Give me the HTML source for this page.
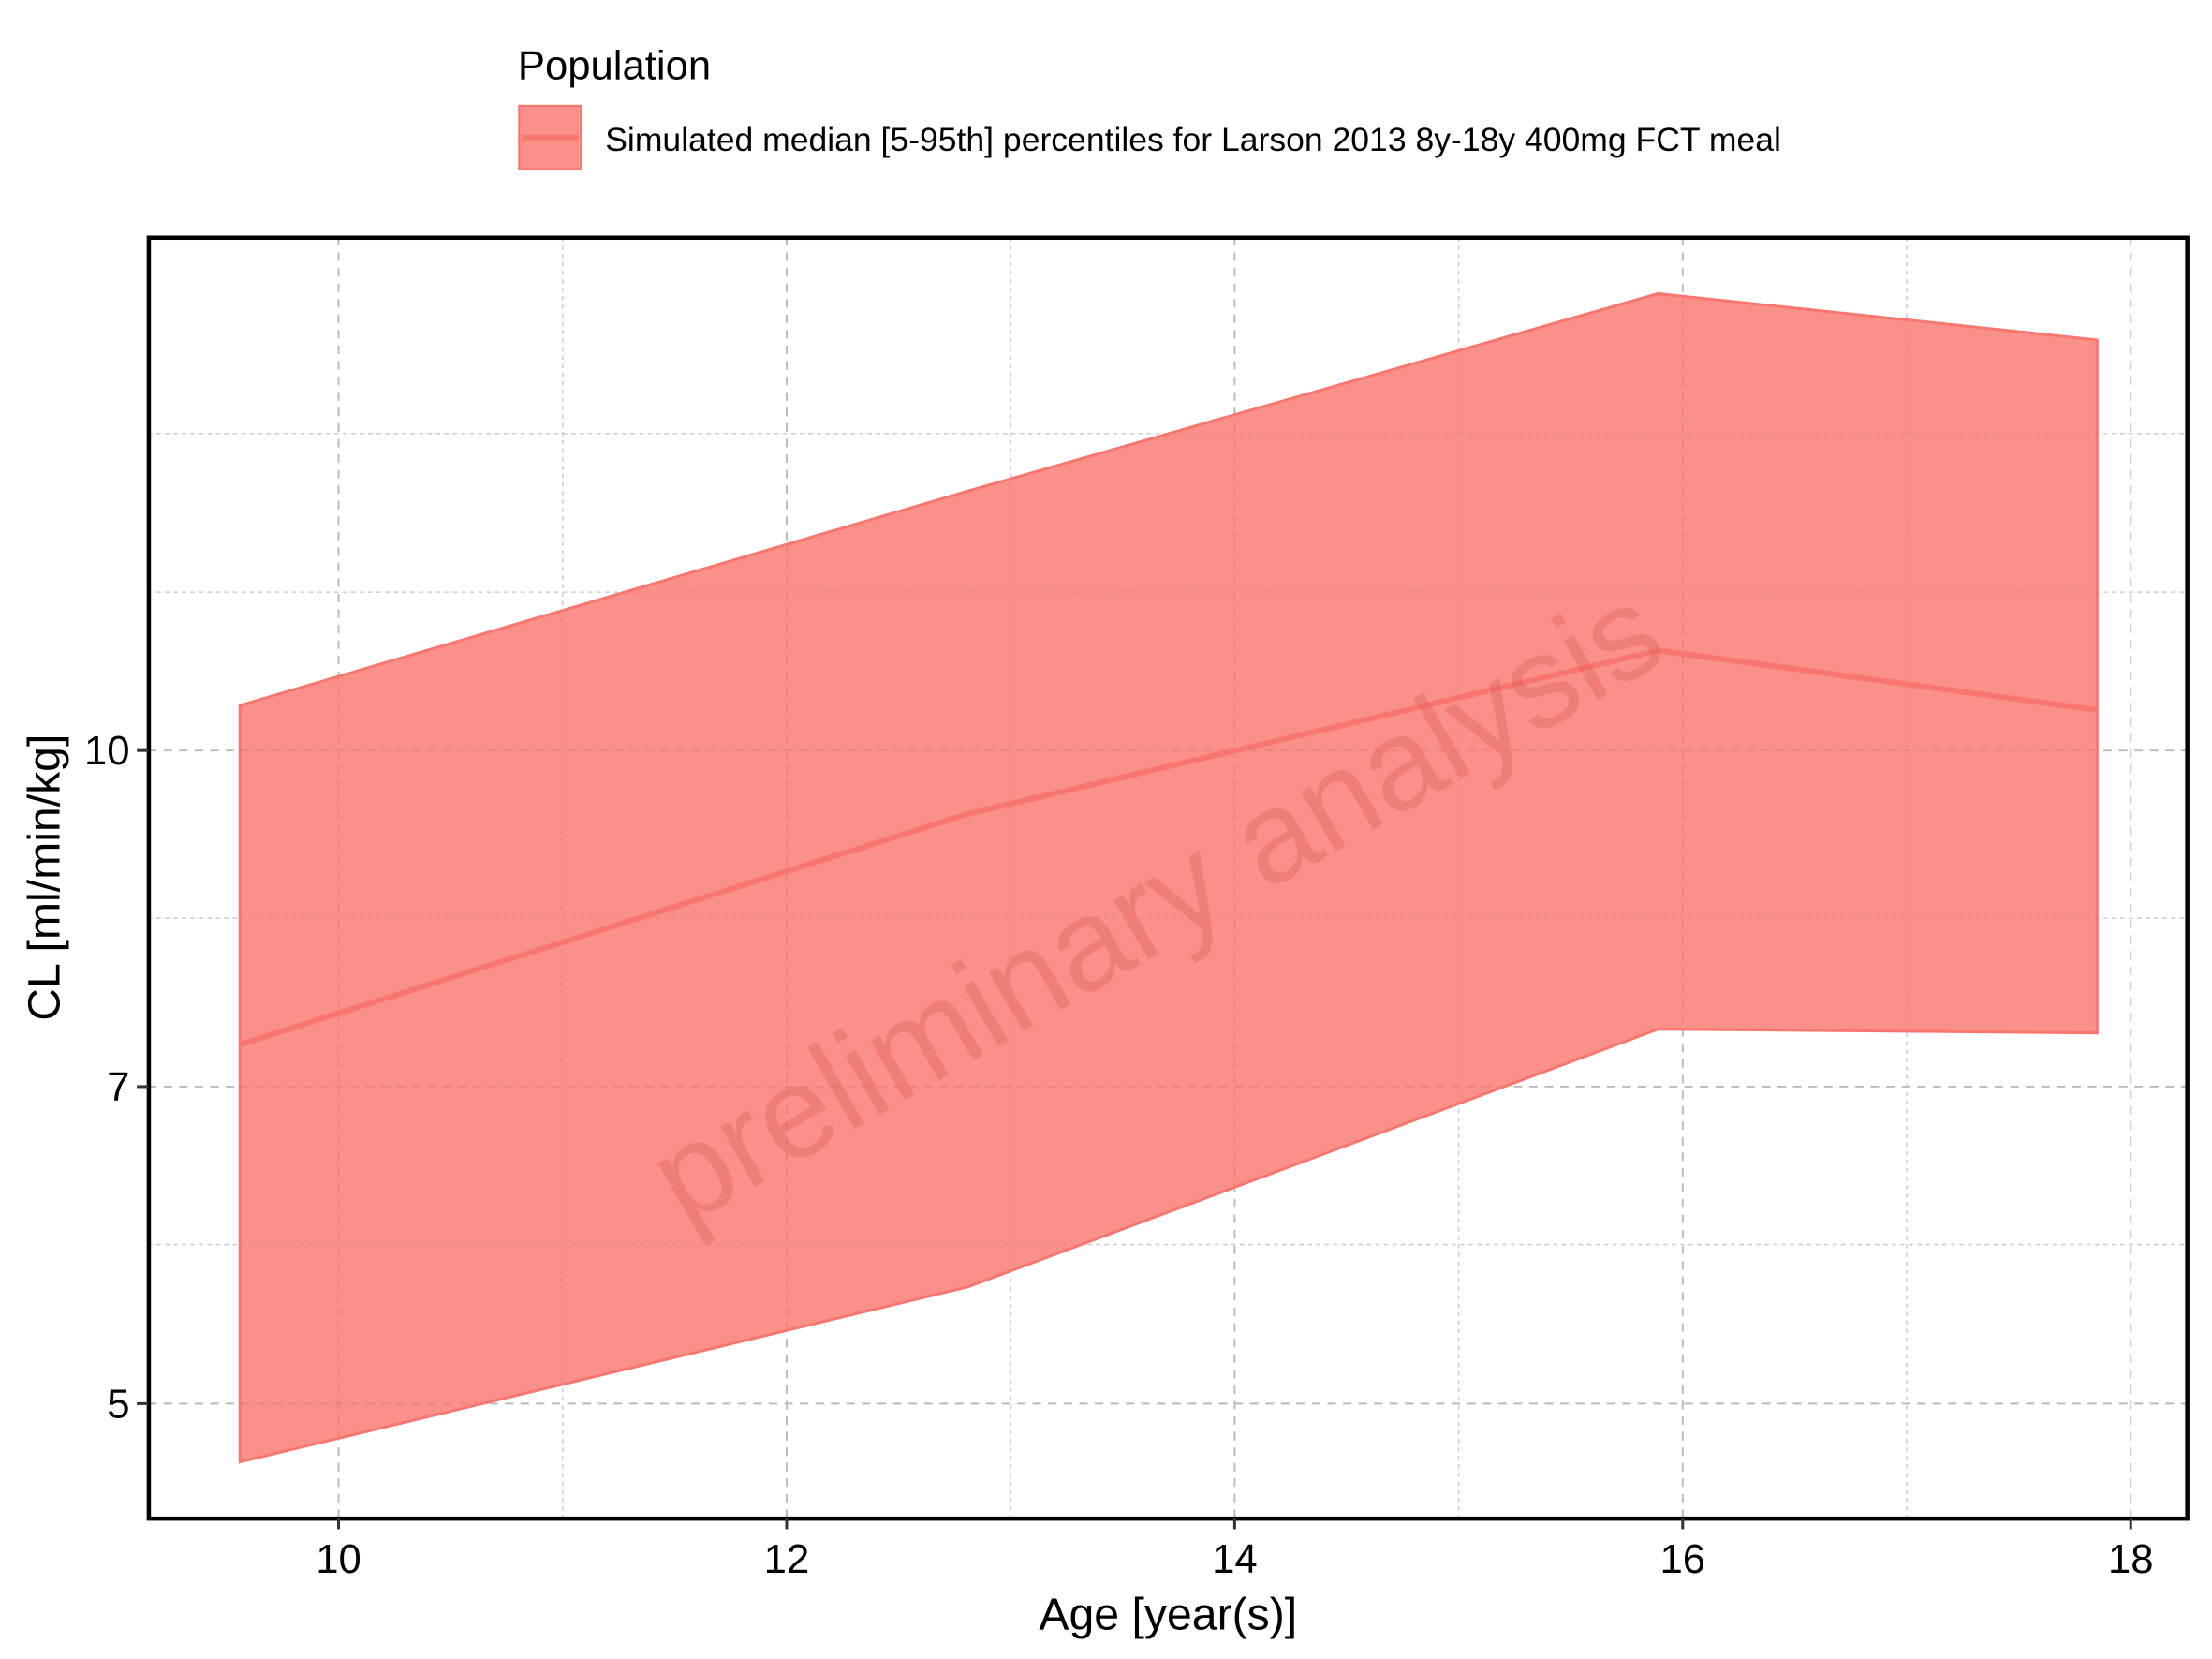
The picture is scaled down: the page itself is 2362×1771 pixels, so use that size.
<!DOCTYPE html>
<html><head><meta charset="utf-8"><style>
html,body{margin:0;padding:0;background:#fff;}
svg{display:block;font-family:"Liberation Sans",Arial,sans-serif;}
</style></head><body>
<svg id="chart" width="2362" height="1771" viewBox="0 0 1568 1176" preserveAspectRatio="none" xmlns="http://www.w3.org/2000/svg">
<g id="grid"></g>
<g id="marks"></g>
<text x="835" y="668" font-size="92" fill="#d9534f" fill-opacity="0.3" text-anchor="middle" transform="rotate(-30 835 668)">preliminary analysis</text>
<rect x="105.5" y="168.5" width="1445" height="908" fill="none" stroke="#000" stroke-width="3"/>
<g id="axes"></g>
<text x="828" y="1155" font-size="32" text-anchor="middle">Age [year(s)]</text>
<text x="42" y="622" font-size="32" text-anchor="middle" transform="rotate(-90 42 622)">CL [ml/min/kg]</text>
<g>
<text x="367" y="56" font-size="29">Population</text>
<rect x="368" y="75" width="44" height="45" fill="#F8766D" fill-opacity="0.8" stroke="#F8766D" stroke-width="1.5"/>
<line x1="370" y1="97.5" x2="410" y2="97.5" stroke="#F8766D" stroke-width="4"/>
<text x="429" y="107" font-size="23.6">Simulated median [5-95th] percentiles for Larson 2013 8y-18y 400mg FCT meal</text>
</g>
</svg>
<script>
const ages=[9.56,12.81,15.89,17.85];
const upper=[10.49,13.17,16.24,15.46];
const median=[7.32,9.35,11.12,10.44];
const lower=[4.70,5.66,7.44,7.41];
const xTicks=[10,12,14,16,18];
const yTicks=[5,7,10];
const yMinor=[5.92,8.37,11.83,14.0];
const xMinor=[11,13,15,17];
const NS="http://www.w3.org/2000/svg";
const X=v=>240+(v-10)*158.8;
const Y=v=>532-Math.log10(v/10)*1538;
function mk(tag,attrs,parent){const e=document.createElementNS(NS,tag);for(const k in attrs)e.setAttribute(k,attrs[k]);parent.appendChild(e);return e;}
const grid=document.getElementById('grid'),marks=document.getElementById('marks'),axes=document.getElementById('axes');
xMinor.forEach(v=>{const l=mk('line',{x1:X(v),x2:X(v),y1:168,y2:1076,stroke:'#ccc','stroke-width':1,'stroke-dasharray':'3,3'},grid);

});
yMinor.forEach(v=>{const l=mk('line',{x1:105,x2:1550,y1:Y(v),y2:Y(v),stroke:'#ccc','stroke-width':1,'stroke-dasharray':'3,3'},grid);

});
xTicks.forEach(v=>{const l=mk('line',{x1:X(v),x2:X(v),y1:168,y2:1076,stroke:'#bbb','stroke-width':1.3,'stroke-dasharray':'6,5'},grid);


const t=mk('line',{x1:X(v),x2:X(v),y1:1076,y2:1084,stroke:'#333','stroke-width':2},axes);


const tx=mk('text',{x:X(v),y:1115,'font-size':29,'text-anchor':'middle'},axes);tx.textContent=v;

});
yTicks.forEach(v=>{const l=mk('line',{x1:105,x2:1550,y1:Y(v),y2:Y(v),stroke:'#bbb','stroke-width':1.3,'stroke-dasharray':'6,5'},grid);


const t=mk('line',{x1:97,x2:105,y1:Y(v),y2:Y(v),stroke:'#333','stroke-width':2},axes);


const tx=mk('text',{x:92,y:Y(v)+10,'font-size':29,'text-anchor':'end'},axes);tx.textContent=v;

});
let pts=ages.map((a,i)=>X(a)+','+Y(upper[i]));
for(let i=ages.length-1;i>=0;i--)pts.push(X(ages[i])+','+Y(lower[i]));
const band=mk('polygon',{points:pts.join(' '),fill:'#F8766D','fill-opacity':0.8,stroke:'#F8766D','stroke-width':2},marks);


const med=mk('polyline',{points:ages.map((a,i)=>X(a)+','+Y(median[i])).join(' '),fill:'none',stroke:'#F8766D','stroke-width':4},marks);


</script>
</body></html>
